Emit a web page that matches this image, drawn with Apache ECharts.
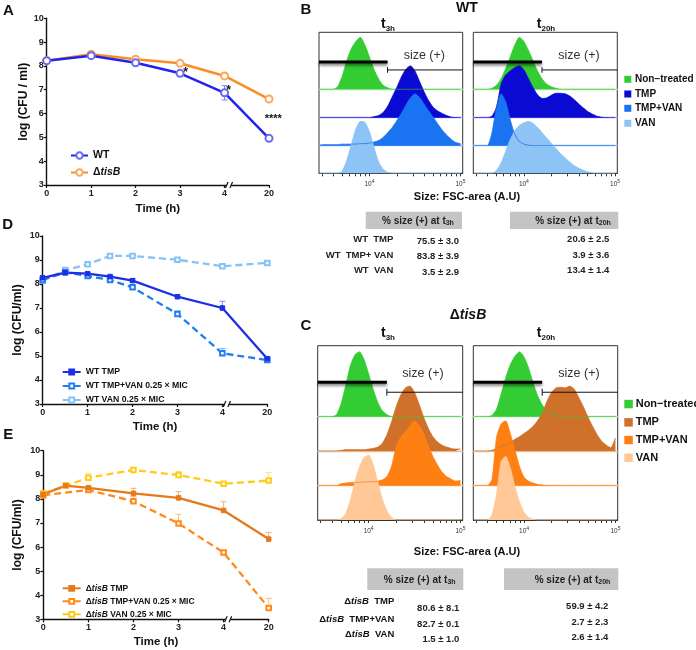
<!DOCTYPE html>
<html><head><meta charset="utf-8">
<script src="https://cdn.jsdelivr.net/npm/echarts@6.0.0/dist/echarts.min.js"></script>
<style>html,body{margin:0;padding:0;background:#fff}#main{width:696px;height:650px}</style>
</head><body><div id="main"></div>
<script>
// ---------------- DATA ----------------
const timeTickLabels = ['0', '1', '2', '3', '4', '20'];

// Panel A
const timeA = [0, 1, 2, 3, 4, 20];
const wtA = [8.22, 8.43, 8.13, 7.69, 6.87, 4.96];
const wtErrA = [0.03, 0.03, 0.05, 0.1, 0.3, 0.03];
const tisA = [8.22, 8.49, 8.28, 8.11, 7.58, 6.61];
const tisErrA = [0.03, 0.03, 0.05, 0.05, 0.12, 0.05];

// Panel D
const timeD = [0, 0.5, 1, 1.5, 2, 3, 4, 20];
const wtTmp = [8.26, 8.47, 8.43, 8.31, 8.14, 7.47, 7.0, 4.89];
const wtTmpErr = [0.05, 0.03, 0.05, 0.05, 0.08, 0.08, 0.28, 0.05];
const wtTmpVan = [8.17, 8.49, 8.33, 8.17, 7.86, 6.75, 5.11, 4.83];
const wtTmpVanErr = [0.03, 0.03, 0.03, 0.05, 0.05, 0.13, 0.2, 0.05];
const wtVan = [8.14, 8.58, 8.82, 9.17, 9.17, 9.01, 8.74, 8.88];
const wtVanErr = [0.03, 0.03, 0.03, 0.03, 0.03, 0.05, 0.05, 0.05];

// Panel E
const timeE = [0, 0.5, 1, 2, 3, 4, 20];
const tisTmp = [8.19, 8.55, 8.46, 8.23, 8.04, 7.52, 6.33];
const tisTmpErr = [0.05, 0.03, 0.06, 0.21, 0.26, 0.36, 0.28];
const timeE2 = [0, 1, 2, 3, 4, 20];
const tisTmpVan = [8.15, 8.37, 7.9, 6.98, 5.77, 3.47];
const tisTmpVanErr = [0.05, 0.05, 0.2, 0.38, 0.05, 0.4];
const tisVan = [8.23, 8.55, 8.88, 9.2, 8.99, 8.63, 8.76];
const tisVanErr = [0.03, 0.03, 0.18, 0.09, 0.14, 0.05, 0.34];

// Flow cytometry histograms (log10 FSC-area bins, relative counts, mode = 100)
const fscLog = [3.45, 3.50, 3.55, 3.60, 3.65, 3.70, 3.75, 3.80, 3.85, 3.90, 3.95, 4.00, 4.05, 4.10, 4.15, 4.20,
                4.25, 4.30, 4.35, 4.40, 4.45, 4.50, 4.55, 4.60, 4.65, 4.70, 4.75, 4.80, 4.85, 4.90, 4.95, 5.00];
// WT t3h
const ntB3  = [0,0,0,0,5,25,55,78,92,100,85,62,38,20,8,3,0,0,0,0,0,0,0,0,0,0,0,0,0,0,0,0];
const tmpB3 = [0,0,0,0,0,0,0,0,0,0,0,0,2,4,10,22,40,58,78,93,100,90,70,50,33,20,13,8,4,1,0,0];
const tvB3  = [1,2,2,2,2,3,3,3,3,4,4,5,7,10,16,25,35,48,62,78,92,100,93,80,67,55,42,30,20,12,6,4];
const vanB3 = [0,0,0,0,0,4,25,55,85,100,98,80,50,22,8,2,0,0,0,0,0,0,0,0,0,0,0,0,0,0,0,0];
// WT t20h
const ntB20  = [0,0,0,0,2,8,20,40,62,85,100,92,75,55,35,20,10,5,2,0,0,0,0,0,0,0,0,0,0,0,0,0];
const tmpB20 = [0,0,0,0,3,20,65,82,90,96,100,92,75,58,44,37,38,43,47,47,46,42,35,27,19,12,7,3,1,0,0,0];
const tvB20  = [0,0,0,0,25,75,100,85,50,22,8,3,1,0,0,0,0,0,0,0,0,0,0,0,0,0,0,0,0,0,0,0];
const vanB20 = [0,0,0,0,0,6,20,42,65,82,92,97,100,96,88,78,68,58,48,38,30,22,15,10,6,3,1,0,0,0,0,0];
// ΔtisB t3h
const ntC3  = [0,0,0,0,3,20,48,78,95,100,88,66,42,22,9,3,0,0,0,0,0,0,0,0,0,0,0,0,0,0,0,0];
const tmpC3 = [0,0,0,0,0,1,2,2,2,2,2,3,4,6,12,25,45,68,86,97,100,90,72,52,35,22,14,9,6,4,3,3];
const tvC3  = [0,0,0,0,0,3,4,5,5,5,6,6,6,7,9,14,30,60,75,83,92,100,93,80,62,45,32,21,14,10,7,8];
const vanC3 = [0,0,0,0,0,2,10,30,58,82,96,100,85,58,32,14,4,0,0,0,0,0,0,0,0,0,0,0,0,0,0,0];
// ΔtisB t20h
const ntC20  = [0,0,0,0,2,12,35,60,80,93,100,92,75,52,32,18,9,4,2,0,0,0,0,0,0,0,0,0,0,0,0,0];
const tmpC20 = [0,0,0,0,1,4,7,10,13,18,22,27,32,38,47,58,76,90,97,98,97,100,95,82,68,52,38,25,15,9,5,20];
const tvC20  = [0,0,0,0,10,75,95,100,80,55,30,13,7,4,2,1,0,0,0,0,0,0,0,0,0,0,0,0,0,0,0,0];
const vanC20 = [0,0,0,0,8,40,90,98,80,52,28,12,4,1,0,0,0,0,0,0,0,0,0,0,0,0,0,0,0,0,0,0];

const fscTicks = [3000, 4000, 5000, 6000, 7000, 8000, 9000, 10000, 20000, 30000, 40000, 50000, 60000, 70000, 80000, 90000, 100000];
const fscLabelTicks = [10000, 100000];
const gateFsc = 15800;

const histLegend = ['Non\u2212treated', 'TMP', 'TMP+VAN', 'VAN'];
const tableBRows = ['WT  TMP', 'WT  TMP+ VAN', 'WT  VAN'];
const tableB3 = ['75.5 \u00b1 3.0', '83.8 \u00b1 3.9', '3.5 \u00b1 2.9'];
const tableB20 = ['20.6 \u00b1 2.5', '3.9 \u00b1 3.6', '13.4 \u00b1 1.4'];
const tableCRows = ['TMP', 'TMP+VAN', 'VAN'];
const tableC3 = ['80.6 \u00b1 8.1', '82.7 \u00b1 0.1', '1.5 \u00b1 1.0'];
const tableC20 = ['59.9 \u00b1 4.2', '2.7 \u00b1 2.3', '2.6 \u00b1 1.4'];

// ---------------- STYLE ----------------
const F = '"Liberation Sans", Arial, Helvetica, sans-serif';
const colorsB = ['#33cc33', '#0a0ad2', '#1a73f0', '#8ec3f5'];
const colorsC = ['#33cc33', '#cf712b', '#ff8012', '#ffc896'];
const baseColB = ['#a3e8a3', '#a0a0f2', '#94c0f6', null];
const baseColC = ['#a3e8a3', '#eebb95', '#ffbe85', null];

function tpos(t) { return t <= 4 ? t : 5; } // broken time axis: 20 h placed one step after 4 h

const chart = echarts.init(document.getElementById('main'));
const grids = [], xAxes = [], yAxes = [], series = [];

const linePanels = [
  {grid: {left: 46.7, top: 18.3, width: 222.3, height: 166.7}, yName: 'log (CFU / ml)', xGap: 18, yGap: 17},
  {grid: {left: 42.7, top: 236, width: 224.6, height: 168}, yName: 'log (CFU/ml)', xGap: 17, yGap: 19},
  {grid: {left: 43.3, top: 450.7, width: 225.4, height: 168.6}, yName: 'log (CFU/ml)', xGap: 17, yGap: 19.5}
];
linePanels.forEach((p, gi) => {
  grids.push(Object.assign({show: false}, p.grid));
  xAxes.push({type: 'value', gridIndex: gi, min: 0, max: 5, interval: 1,
    axisLine: {show: true, onZero: false, lineStyle: {color: '#111', width: 1.4}},
    axisTick: {show: true, length: 3, lineStyle: {color: '#111', width: 1.2}},
    axisLabel: {formatter: v => timeTickLabels[v], fontSize: 9, fontWeight: 'bold', color: '#222', margin: 4, fontFamily: F},
    splitLine: {show: false},
    name: 'Time (h)', nameLocation: 'middle', nameGap: p.xGap,
    nameTextStyle: {fontWeight: 'bold', fontSize: 11.5, color: '#111', fontFamily: F}});
  yAxes.push({type: 'value', gridIndex: gi, min: 3, max: 10, interval: 1,
    axisLine: {show: true, onZero: false, lineStyle: {color: '#111', width: 1.4}},
    axisTick: {show: true, length: 3, lineStyle: {color: '#111', width: 1.2}},
    axisLabel: {fontSize: 9, fontWeight: 'bold', color: '#222', margin: 3, fontFamily: F},
    splitLine: {show: false},
    name: p.yName, nameLocation: 'middle', nameGap: p.yGap, nameRotate: 90,
    nameTextStyle: {fontWeight: 'bold', fontSize: 12, color: '#111', fontFamily: F}});
});

function lineSeries(name, gi, times, vals, color, symbol, size, dashed, lw, markColor) {
  return {name, type: 'line', xAxisIndex: gi, yAxisIndex: gi,
    data: times.map((t, i) => [tpos(t), vals[i]]),
    symbol, symbolSize: size, showAllSymbol: true,
    lineStyle: {color, width: lw || 2.5, type: dashed ? [7, 4] : 'solid'},
    itemStyle: {color: markColor || color, borderColor: markColor || color, borderWidth: 1}, z: 3};
}
function errSeries(gi, times, vals, errs, color, both) {
  return {type: 'custom', xAxisIndex: gi, yAxisIndex: gi, z: 2, silent: true,
    encode: {x: 0, y: 1},
    data: times.map((t, i) => [tpos(t), vals[i], errs[i]]),
    renderItem: (params, api) => {
      const x = api.value(0), y = api.value(1), e = api.value(2);
      const c = api.coord([x, y]), top = api.coord([x, y + e]), bot = api.coord([x, both ? y - e : y]);
      const st = {stroke: color, lineWidth: 1};
      const ch = [
        {type: 'line', shape: {x1: c[0], y1: bot[1], x2: c[0], y2: top[1]}, style: st},
        {type: 'line', shape: {x1: c[0] - 3, y1: top[1], x2: c[0] + 3, y2: top[1]}, style: st}];
      if (both) ch.push({type: 'line', shape: {x1: c[0] - 3, y1: bot[1], x2: c[0] + 3, y2: bot[1]}, style: st});
      return {type: 'group', children: ch};
    }};
}

// Panel A
series.push(errSeries(0, timeA, wtA, wtErrA, '#8080f5', true));
series.push(errSeries(0, timeA, tisA, tisErrA, '#f8b878', true));
series.push(lineSeries('ΔtisB', 0, timeA, tisA, '#f98e22', 'emptyCircle', 7, false, 2.5, '#f8a95a'));
series.push(lineSeries('WT', 0, timeA, wtA, '#2323ee', 'emptyCircle', 7, false, 2.5, '#6a6af2'));
// Panel D
series.push(errSeries(1, timeD, wtTmp, wtTmpErr, '#7f8cf0', false));
series.push(errSeries(1, timeD, wtTmpVan, wtTmpVanErr, '#7fb6f5', false));
series.push(errSeries(1, timeD, wtVan, wtVanErr, '#b5d9fa', false));
series.push(lineSeries('WT VAN 0.25 × MIC', 1, timeD, wtVan, '#86c1f7', 'emptyRect', 4.5, true, 2.3));
series.push(lineSeries('WT TMP+VAN 0.25 × MIC', 1, timeD, wtTmpVan, '#1f7ff2', 'emptyRect', 4.5, true, 2.3));
series.push(lineSeries('WT TMP', 1, timeD, wtTmp, '#1c2fe6', 'rect', 4.5, false, 2.3));
// Panel E
series.push(errSeries(2, timeE, tisTmp, tisTmpErr, '#f0b27a', false));
series.push(errSeries(2, timeE2, tisTmpVan, tisTmpVanErr, '#ffbb80', false));
series.push(errSeries(2, timeE, tisVan, tisVanErr, '#ffdf80', false));
series.push(lineSeries('ΔtisB VAN 0.25 × MIC', 2, timeE, tisVan, '#ffcc1a', 'emptyRect', 4.5, true, 2.3));
series.push(lineSeries('ΔtisB TMP+VAN 0.25 × MIC', 2, timeE2, tisTmpVan, '#ff8a18', 'emptyRect', 4.5, true, 2.3));
series.push(lineSeries('ΔtisB TMP', 2, timeE, tisTmp, '#e47a1c', 'rect', 4.5, false, 2.3));

// Histogram boxes
const LOGMIN = 3.445, LOGMAX = 5.025;
const histBoxes = [
  {data: [ntB3, tmpB3, tvB3, vanB3], colors: colorsB, base: baseColB, frame: {left: 319, top: 32.3, width: 143.7, height: 141}, rows: [89.3, 117.7, 145.7, 173.3], peak: 52},
  {data: [ntB20, tmpB20, tvB20, vanB20], colors: colorsB, base: baseColB, frame: {left: 473.3, top: 32.3, width: 144, height: 141}, rows: [89.3, 117.7, 145.7, 173.3], peak: 52},
  {data: [ntC3, tmpC3, tvC3, vanC3], colors: colorsC, base: baseColC, frame: {left: 317.7, top: 345.7, width: 145, height: 174.3}, rows: [416.7, 451, 485.7, 520], peak: 65},
  {data: [ntC20, tmpC20, tvC20, vanC20], colors: colorsC, base: baseColC, frame: {left: 473.3, top: 345.7, width: 144.4, height: 174.3}, rows: [416.7, 451, 485.7, 520], peak: 65}
];
const gateLog = Math.log10(gateFsc);
histBoxes.forEach(b => {
  b.data.forEach((h, r) => {
    const gi = grids.length;
    grids.push({left: b.frame.left, width: b.frame.width, top: b.rows[r] - b.peak, height: b.peak, show: false});
    xAxes.push({type: 'value', gridIndex: gi, min: LOGMIN, max: LOGMAX,
      axisLine: {show: r < 3, onZero: false, lineStyle: {color: b.base[r] || '#fff', width: 1.3}},
      axisTick: {show: false}, axisLabel: {show: false}, splitLine: {show: false}});
    yAxes.push({type: 'value', gridIndex: gi, min: 0, max: 100, show: false});
    series.push({type: 'line', xAxisIndex: gi, yAxisIndex: gi, data: fscLog.map((x, i) => [x, h[i]]),
      symbol: 'none', smooth: 0.2, lineStyle: {color: b.colors[r], width: 0.8},
      areaStyle: {color: b.colors[r], opacity: 1}, silent: true, z: 2});
  });
  const fi = grids.length;
  grids.push(Object.assign({show: true, borderColor: '#333', borderWidth: 1, backgroundColor: 'transparent'}, b.frame));
  xAxes.push({type: 'value', gridIndex: fi, min: LOGMIN, max: LOGMAX,
    axisLine: {show: true, onZero: false, lineStyle: {color: '#333', width: 1}},
    axisTick: {show: true, customValues: fscTicks.map(Math.log10), length: 3, lineStyle: {color: '#333'}},
    axisLabel: {customValues: fscLabelTicks.map(Math.log10), margin: 6, color: '#333',
      formatter: v => '{b|10}{s|' + Math.round(v) + '}',
      rich: {b: {fontSize: 6.5, fontFamily: F, color: '#333'}, s: {fontSize: 5, fontFamily: F, color: '#333', padding: [0, 0, 5, 0]}}},
    splitLine: {show: false}});
  yAxes.push({type: 'value', gridIndex: fi, min: 0, max: 1, show: false});
  series.push({type: 'line', xAxisIndex: fi, yAxisIndex: fi, data: [[LOGMIN, 0.79], [gateLog, 0.79]], symbol: 'none',
    lineStyle: {color: '#000', width: 3, shadowBlur: 3, shadowColor: 'rgba(0,0,0,0.55)', shadowOffsetY: 2}, z: 6, silent: true});
  series.push({type: 'line', xAxisIndex: fi, yAxisIndex: fi, data: [[gateLog, 0.733], [LOGMAX, 0.733]], symbol: 'none',
    lineStyle: {color: '#111', width: 1}, z: 6, silent: true});
  series.push({type: 'line', xAxisIndex: fi, yAxisIndex: fi, data: [[gateLog, 0.713], [gateLog, 0.753]], symbol: 'none',
    lineStyle: {color: '#111', width: 1}, z: 6, silent: true});
});

const tisRich = {
  d: {fontFamily: F, fontWeight: 'bold', fontSize: 10.5, color: '#111'},
  i: {fontFamily: F, fontWeight: 'bold', fontStyle: 'italic', fontSize: 10.5, color: '#111'}
};
function tisFmt(n) { return n.replace('ΔtisB', '{d|Δ}{i|tisB}'); }
function smallRich(sz) {
  return {d: {fontFamily: F, fontWeight: 'bold', fontSize: sz, color: '#111'},
          i: {fontFamily: F, fontWeight: 'bold', fontStyle: 'italic', fontSize: sz, color: '#111'}};
}
const legends = [
  {data: ['WT', 'ΔtisB'], left: 65, top: 145, orient: 'vertical', itemWidth: 17, itemHeight: 8, itemGap: 6,
   formatter: tisFmt, textStyle: {fontFamily: F, fontWeight: 'bold', fontSize: 10.5, color: '#111', rich: tisRich}},
  {data: ['WT TMP', 'WT TMP+VAN 0.25 × MIC', 'WT VAN 0.25 × MIC'], left: 56.7, top: 362.5, orient: 'vertical',
   itemWidth: 18, itemHeight: 6, itemGap: 5, textStyle: {fontFamily: F, fontWeight: 'bold', fontSize: 8.7, color: '#111'}},
  {data: ['ΔtisB TMP', 'ΔtisB TMP+VAN 0.25 × MIC', 'ΔtisB VAN 0.25 × MIC'], left: 56.7, top: 578.8, orient: 'vertical',
   itemWidth: 18, itemHeight: 6, itemGap: 4, formatter: tisFmt,
   textStyle: {fontFamily: F, fontWeight: 'bold', fontSize: 8.5, color: '#111', rich: smallRich(8.5)}}
];

chart.setOption({animation: false, backgroundColor: '#fff', grid: grids, xAxis: xAxes, yAxis: yAxes, series, legend: legends});

// ---------------- ANNOTATIONS ----------------
function txt(x, y, text, size, weight, align, extra) {
  return {type: 'text', x, y, z: 50, silent: true,
    style: Object.assign({text, fontSize: size, fontWeight: weight || 'normal', fontFamily: F, fill: '#111',
      align: align || 'center', verticalAlign: 'middle'}, extra || {})};
}
function sub(main, s, mSize, sSize) {
  return {text: '{m|' + main + '}{s|' + s + '}',
    rich: {m: {fontSize: mSize, fontWeight: 'bold', fontFamily: F, fill: '#111', lineHeight: mSize + 2, verticalAlign: 'bottom'},
           s: {fontSize: sSize, fontWeight: 'bold', fontFamily: F, fill: '#111', lineHeight: sSize + 2, verticalAlign: 'bottom', padding: [0, 0, -2, 0]}}};
}
const G = [];
// panel letters & titles
G.push(txt(8.5, 11, 'A', 15, 'bold'), txt(7.7, 225.3, 'D', 15, 'bold'), txt(8.3, 435.3, 'E', 15, 'bold'),
       txt(306, 10, 'B', 15, 'bold'), txt(306, 325.5, 'C', 15, 'bold'));
G.push(txt(467, 8.5, 'WT', 14, 'bold'));
G.push(txt(468, 315, '', 14, 'bold', 'center', {text: '{d|Δ}{i|tisB}', rich: {d: {fontSize: 14, fontWeight: 'bold', fontFamily: F, fill: '#111'}, i: {fontSize: 14, fontWeight: 'bold', fontStyle: 'italic', fontFamily: F, fill: '#111'}}}));
G.push(txt(388, 23, '', 13, 'bold', 'center', sub('t', '3h', 14, 8)));
G.push(txt(546, 23, '', 13, 'bold', 'center', sub('t', '20h', 14, 8)));
G.push(txt(388, 332, '', 13, 'bold', 'center', sub('t', '3h', 14, 8)));
G.push(txt(546, 332, '', 13, 'bold', 'center', sub('t', '20h', 14, 8)));
// gate labels
[[424.3, 55.7], [579, 55.7], [423, 373.3], [579, 373.3]].forEach(p => G.push(txt(p[0], p[1], 'size (+)', 12.5, 'normal', 'center', {fill: '#333'})));
G.push(txt(467, 197.3, 'Size: FSC-area (A.U)', 11, 'bold'));
G.push(txt(467, 551.7, 'Size: FSC-area (A.U)', 11, 'bold'));
// stars
G.push(txt(185.7, 73, '*', 12, 'bold'), txt(228.7, 91, '*', 12, 'bold'), txt(273.3, 119, '****', 11, 'bold'));
// hist legends
histLegend.forEach((n, i) => {
  const yb = [79.3, 94, 108.3, 123.3][i];
  G.push({type: 'rect', z: 50, silent: true, shape: {x: 624.3, y: yb - 3.5, width: 7, height: 7}, style: {fill: colorsB[i]}});
  G.push(txt(635, yb, n, 10, 'bold', 'left'));
  const yc = [404, 422.3, 440, 457.7][i];
  G.push({type: 'rect', z: 50, silent: true, shape: {x: 624.3, y: yc - 4.2, width: 8.5, height: 8.5}, style: {fill: colorsC[i]}});
  G.push(txt(635.7, yc, n, 11, 'bold', 'left'));
});
// tables
function headerRich(s) {
  return {text: '{m|% size (+) at t}{s|' + s + '}',
    rich: {m: {fontSize: 10, fontWeight: 'bold', fontFamily: F, fill: '#222', lineHeight: 12, verticalAlign: 'bottom'},
           s: {fontSize: 7, fontWeight: 'bold', fontFamily: F, fill: '#222', lineHeight: 10, verticalAlign: 'bottom'}}};
}
G.push({type: 'rect', z: 40, silent: true, shape: {x: 365.7, y: 211.7, width: 96.3, height: 17.3}, style: {fill: '#c4c4c4'}});
G.push({type: 'rect', z: 40, silent: true, shape: {x: 510, y: 211.7, width: 108.3, height: 17.3}, style: {fill: '#c4c4c4'}});
G.push(txt(418, 220.3, '', 10, 'bold', 'center', headerRich('3h')));
G.push(txt(573, 220.3, '', 10, 'bold', 'center', headerRich('20h')));
tableBRows.forEach((r, i) => {
  G.push(txt(393.3, [239.3, 255, 270.7][i], r, 9.5, 'bold', 'right', {fill: '#222'}));
  G.push(txt(459, [241, 256.7, 272][i], tableB3[i], 9.5, 'bold', 'right', {fill: '#222'}));
  G.push(txt(609.3, [239.3, 255.3, 270.7][i], tableB20[i], 9.5, 'bold', 'right', {fill: '#222'}));
});
G.push({type: 'rect', z: 40, silent: true, shape: {x: 367.3, y: 568.3, width: 96, height: 21.7}, style: {fill: '#c4c4c4'}});
G.push({type: 'rect', z: 40, silent: true, shape: {x: 504, y: 568.3, width: 114.3, height: 21.7}, style: {fill: '#c4c4c4'}});
G.push(txt(419.7, 579.2, '', 10, 'bold', 'center', headerRich('3h')));
G.push(txt(572.5, 579.2, '', 10, 'bold', 'center', headerRich('20h')));
tableCRows.forEach((r, i) => {
  G.push(txt(394.3, [601.7, 619, 634.3][i], '', 9.5, 'bold', 'right', {text: '{d|Δ}{i|tisB}{d|  ' + r + '}', rich: smallRich(9.5)}));
  G.push(txt(459.3, [608.7, 624.7, 639.3][i], tableC3[i], 9.5, 'bold', 'right', {fill: '#222'}));
  G.push(txt(608.3, [606.7, 622.7, 637.7][i], tableC20[i], 9.5, 'bold', 'right', {fill: '#222'}));
});
// axis break marks on the time axes
[0, 1, 2].forEach(gi => {
  const y = chart.convertToPixel({yAxisIndex: gi}, 3);
  const xa = chart.convertToPixel({xAxisIndex: gi}, 4.05), xb = chart.convertToPixel({xAxisIndex: gi}, 4.15);
  G.push({type: 'rect', z: 60, silent: true, shape: {x: xa, y: y - 2.5, width: xb - xa, height: 5}, style: {fill: '#fff'}});
  G.push({type: 'line', z: 61, silent: true, shape: {x1: xa - 1.3, y1: y + 3, x2: xa + 1.3, y2: y - 3}, style: {stroke: '#111', lineWidth: 1.2}});
  G.push({type: 'line', z: 61, silent: true, shape: {x1: xb - 1.3, y1: y + 3, x2: xb + 1.3, y2: y - 3}, style: {stroke: '#111', lineWidth: 1.2}});
});
chart.setOption({graphic: G});
</script></body></html>
